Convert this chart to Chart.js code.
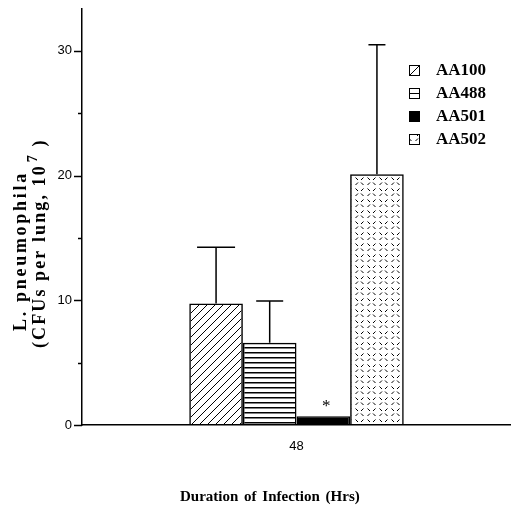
<!DOCTYPE html>
<html>
<head>
<meta charset="utf-8">
<script src="https://cdn.jsdelivr.net/npm/chart.js@4/dist/chart.umd.min.js"></script>
<style>
html,body{margin:0;padding:0;background:#fff;}
canvas{display:block;}
</style>
</head>
<body>
<canvas id="c" width="511" height="507"></canvas>
<script>
// ---- data ----
const categories = ['48'];
const seriesNames = ['AA100', 'AA488', 'AA501', 'AA502'];
const means = [9.75, 6.6, 0.7, 20.1];
const errors = [4.5, 3.35, 0, 10.4];
const yMajorTicks = [0, 10, 20, 30];
const yMinorTicks = [5, 15, 25];
const significant = [false, false, true, false];
const xTitle = 'Duration of Infection (Hrs)';
const yTitle1 = 'L. pneumophila';
const yTitle2a = '(CFUs per lung, 10';
const yTitle2sup = '7';
const yTitle2b = ' )';

// ---- patterns ----
function makePattern(kind) {
  const c = document.createElement('canvas');
  const ctx = c.getContext('2d');
  if (kind === 'diag') {
    c.width = 8; c.height = 8;
    ctx.strokeStyle = '#000'; ctx.lineWidth = 1;
    ctx.beginPath();
    ctx.moveTo(-1, 9); ctx.lineTo(9, -1);
    ctx.moveTo(-5, 5); ctx.lineTo(5, -5);
    ctx.moveTo(3, 13); ctx.lineTo(13, 3);
    ctx.stroke();
  } else if (kind === 'horiz') {
    c.width = 8; c.height = 5;
    ctx.fillStyle = '#000';
    ctx.fillRect(0, 2, 8, 1.5);
  } else if (kind === 'dash') {
    c.width = 12; c.height = 11;
    ctx.strokeStyle = '#000'; ctx.lineWidth = 1;
    ctx.beginPath();
    ctx.moveTo(1, 4); ctx.lineTo(3.5, 1.5);
    ctx.moveTo(7.5, 1.5); ctx.lineTo(10, 4);
    ctx.moveTo(7.5, 9); ctx.lineTo(10, 6.5);
    ctx.moveTo(1, 6.5); ctx.lineTo(3.5, 9);
    ctx.stroke();
  }
  return ctx.createPattern(c, 'repeat');
}
const fills = [makePattern('diag'), makePattern('horiz'), '#000', makePattern('dash')];
const capWidths = [38, 27, 0, 17];

const datasets = seriesNames.map((name, i) => ({
  label: name,
  data: [means[i]],
  backgroundColor: fills[i],
  borderColor: '#000',
  borderWidth: 1.5,
  barPercentage: 1.0,
  categoryPercentage: 0.5
}));

const SERIF = '"Liberation Serif", "Times New Roman", serif';
const SANS = '"Liberation Sans", Arial, sans-serif';

const decor = {
  id: 'decor',
  afterDatasetsDraw(chart) {
    const ctx = chart.ctx;
    const y = chart.scales.y;
    ctx.save();
    ctx.strokeStyle = '#000';
    ctx.lineWidth = 1.5;
    chart.data.datasets.forEach((ds, i) => {
      const el = chart.getDatasetMeta(i).data[0];
      if (errors[i] > 0) {
        const top = y.getPixelForValue(means[i] + errors[i]);
        ctx.beginPath();
        ctx.moveTo(el.x, el.y);
        ctx.lineTo(el.x, top);
        ctx.moveTo(el.x - capWidths[i] / 2, top);
        ctx.lineTo(el.x + capWidths[i] / 2, top);
        ctx.stroke();
      }
      if (significant[i]) {
        ctx.fillStyle = '#000';
        ctx.font = '17px ' + SERIF;
        ctx.textAlign = 'center';
        ctx.textBaseline = 'alphabetic';
        ctx.fillText('*', el.x + 3, el.y - 5);
      }
    });
    ctx.restore();
  },
  afterDraw(chart) {
    const ctx = chart.ctx;
    const y = chart.scales.y;
    const left = chart.chartArea.left;
    ctx.save();
    ctx.strokeStyle = '#000';
    ctx.lineWidth = 1.5;
    // y ticks
    yMajorTicks.forEach(v => {
      const py = Math.round(y.getPixelForValue(v)) + 0.5;
      ctx.beginPath(); ctx.moveTo(left - 8, py); ctx.lineTo(left, py); ctx.stroke();
    });
    yMinorTicks.forEach(v => {
      const py = Math.round(y.getPixelForValue(v)) + 0.5;
      ctx.beginPath(); ctx.moveTo(left - 4, py); ctx.lineTo(left, py); ctx.stroke();
    });
    // legend
    const rows = [70, 93, 116, 139];
    ctx.lineWidth = 1;
    seriesNames.forEach((name, i) => {
      const bx = 409, by = rows[i] - 5, s = 10;
      ctx.fillStyle = '#fff';
      ctx.fillRect(bx, by, s, s);
      if (i === 2) { ctx.fillStyle = '#000'; ctx.fillRect(bx, by, s, s); }
      if (i === 3) { ctx.fillStyle = fills[3]; ctx.fillRect(bx, by, s, s); }
      ctx.strokeStyle = '#000';
      ctx.strokeRect(bx + 0.5, by + 0.5, s, s);
      ctx.beginPath();
      if (i === 0) { ctx.moveTo(bx + 1, by + s); ctx.lineTo(bx + s, by + 1); }
      if (i === 1) { ctx.moveTo(bx, by + s / 2 + 0.5); ctx.lineTo(bx + s, by + s / 2 + 0.5); }
      ctx.stroke();
      ctx.fillStyle = '#000';
      ctx.font = 'bold 17px ' + SERIF;
      ctx.textAlign = 'left';
      ctx.textBaseline = 'middle';
      ctx.fillText(name, 436, rows[i] + 1);
    });
    // x title
    ctx.font = 'bold 15px ' + SERIF;
    ctx.textAlign = 'left';
    ctx.textBaseline = 'alphabetic';
    ctx.letterSpacing = '0px';
    ctx.wordSpacing = '2px';
    ctx.fillText(xTitle, 180, 501);
    ctx.wordSpacing = '0px';
    // y titles (rotated)
    ctx.save();
    ctx.translate(26, 331);
    ctx.rotate(-Math.PI / 2);
    ctx.font = 'bold 18px ' + SERIF;
    ctx.letterSpacing = '2.7px';
    ctx.fillText(yTitle1, 0, 0);
    ctx.restore();
    ctx.save();
    ctx.translate(45, 348);
    ctx.rotate(-Math.PI / 2);
    ctx.font = 'bold 18px ' + SERIF;
    ctx.letterSpacing = '2.1px';
    ctx.fillText(yTitle2a, 0, 0);
    let w = ctx.measureText(yTitle2a).width + 2;
    ctx.font = 'bold 14px ' + SERIF;
    ctx.fillText(yTitle2sup, w, -8);
    w += ctx.measureText(yTitle2sup).width;
    ctx.font = 'bold 18px ' + SERIF;
    ctx.fillText(yTitle2b, w, 0);
    ctx.restore();
    ctx.restore();
  }
};

new Chart(document.getElementById('c'), {
  type: 'bar',
  data: { labels: categories, datasets },
  options: {
    responsive: false,
    animation: false,
    layout: { padding: { top: 8.5, right: 0, left: 0, bottom: 0 } },
    plugins: { legend: { display: false }, tooltip: { enabled: false } },
    scales: {
      x: {
        grid: { display: false, drawTicks: false },
        border: { display: true, color: '#000', width: 1.5 },
        ticks: { color: '#000', font: { family: SANS, size: 13 }, padding: 14 },
        afterFit(s) { s.height = 82; s.paddingLeft = 0; s.paddingRight = 0; }
      },
      y: {
        min: 0,
        max: 33.4,
        grid: { display: false, drawTicks: false },
        border: { display: true, color: '#000', width: 1.5 },
        ticks: {
          stepSize: 5,
          autoSkip: false,
          color: '#000',
          font: { family: SANS, size: 13 },
          padding: 10,
          callback: v => (yMajorTicks.includes(v) ? String(v) : '')
        },
        afterBuildTicks(s) { s.ticks = s.ticks.filter(t => t.value % 5 === 0); },
        afterFit(s) { s.width = 82; s.paddingTop = 0; s.paddingBottom = 0; }
      }
    }
  },
  plugins: [decor]
});
</script>
</body>
</html>
